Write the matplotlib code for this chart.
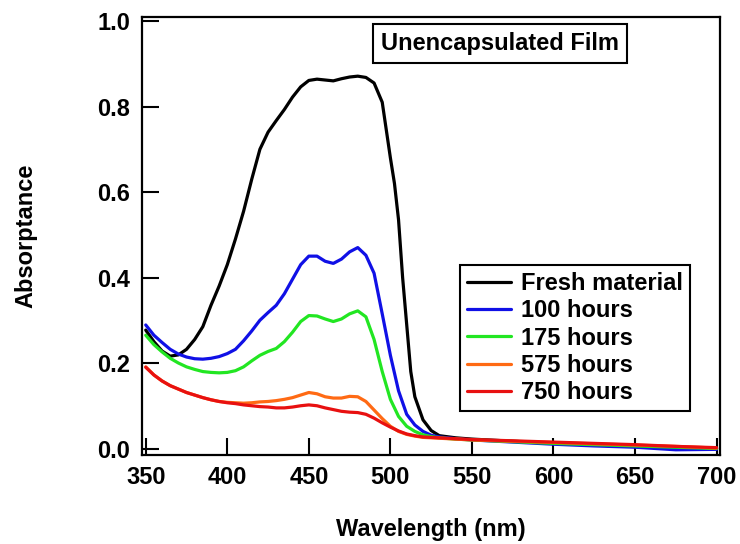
import matplotlib
matplotlib.use("Agg")
import matplotlib.pyplot as plt

plt.rcParams['font.family'] = ['Liberation Sans', 'DejaVu Sans']
plt.rcParams['font.weight'] = 'bold'

# ---- data ----
wl_fresh = [350, 355, 360, 365, 370, 375, 380, 385, 390, 395, 400, 405, 410, 415, 420,
            425, 430, 435, 440, 445, 450, 455, 460, 465, 470, 475, 480, 485, 490, 495,
            500, 502.5, 505, 507.5, 510, 512.5, 515, 520, 525, 530, 540, 550, 575, 600,
            625, 650, 675, 700]
a_fresh = [0.277, 0.250, 0.228, 0.216, 0.219, 0.232, 0.255, 0.285, 0.335, 0.380, 0.430,
           0.490, 0.555, 0.630, 0.700, 0.740, 0.767, 0.793, 0.822, 0.846, 0.861, 0.864,
           0.862, 0.860, 0.865, 0.869, 0.871, 0.868, 0.855, 0.810, 0.680, 0.620, 0.535,
           0.400, 0.290, 0.180, 0.121, 0.067, 0.042, 0.030, 0.025, 0.022, 0.017, 0.012,
           0.008, 0.005, 0.002, 0.000]

wl_std = [350, 355, 360, 365, 370, 375, 380, 385, 390, 395, 400, 405, 410, 415, 420,
          425, 430, 435, 440, 445, 450, 455, 460, 465, 470, 475, 480, 485, 490, 495,
          500, 505, 510, 515, 520, 525, 530, 540, 550, 575, 600, 625, 650, 675, 700]

a_100 = [0.289, 0.265, 0.248, 0.232, 0.221, 0.214, 0.210, 0.209, 0.211, 0.215, 0.222,
         0.232, 0.252, 0.275, 0.300, 0.318, 0.335, 0.362, 0.396, 0.430, 0.450, 0.450,
         0.438, 0.433, 0.443, 0.460, 0.470, 0.452, 0.410, 0.315, 0.218, 0.135, 0.080,
         0.055, 0.040, 0.031, 0.027, 0.023, 0.020, 0.015, 0.010, 0.006, 0.003, -0.003,
         -0.002]

a_175 = [0.265, 0.243, 0.226, 0.211, 0.200, 0.191, 0.185, 0.180, 0.178, 0.177, 0.178,
         0.182, 0.191, 0.205, 0.218, 0.227, 0.234, 0.250, 0.272, 0.297, 0.311, 0.310,
         0.303, 0.297, 0.303, 0.315, 0.322, 0.308, 0.255, 0.180, 0.115, 0.075, 0.052,
         0.040, 0.032, 0.028, 0.025, 0.022, 0.020, 0.016, 0.012, 0.009, 0.006, 0.003,
         0.000]

a_575 = [0.191, 0.172, 0.158, 0.147, 0.139, 0.131, 0.125, 0.119, 0.114, 0.110, 0.108,
         0.107, 0.106, 0.107, 0.109, 0.110, 0.112, 0.115, 0.119, 0.125, 0.131, 0.128,
         0.121, 0.118, 0.118, 0.122, 0.121, 0.110, 0.090, 0.070, 0.052, 0.040, 0.033,
         0.029, 0.026, 0.025, 0.024, 0.022, 0.020, 0.017, 0.014, 0.011, 0.008, 0.005,
         0.001]

a_750 = [0.190, 0.172, 0.158, 0.147, 0.139, 0.131, 0.125, 0.119, 0.114, 0.110, 0.107,
         0.105, 0.102, 0.100, 0.098, 0.097, 0.095, 0.095, 0.097, 0.100, 0.102, 0.100,
         0.095, 0.091, 0.087, 0.085, 0.084, 0.080, 0.071, 0.060, 0.050, 0.041, 0.034,
         0.030, 0.027, 0.026, 0.025, 0.023, 0.021, 0.018, 0.015, 0.012, 0.009, 0.005,
         0.002]

labels = ["Fresh material", "100 hours", "175 hours", "575 hours", "750 hours"]
colors = ["#000000", "#1010e6", "#22e622", "#ff6a14", "#e81010"]
x_ticks = [350, 400, 450, 500, 550, 600, 650, 700]
y_ticks = [0.0, 0.2, 0.4, 0.6, 0.8, 1.0]
title_text = "Unencapsulated Film"
x_label = "Wavelength (nm)"
y_label = "Absorptance"

# ---- figure ----
W, H = 740, 544
fig = plt.figure(figsize=(W / 100, H / 100), dpi=100)
ax = fig.add_axes([141.5 / W, 1 - 455 / H, (720 - 141.5) / W, (455 - 17.3) / H])

series = [(wl_fresh, a_fresh), (wl_std, a_100), (wl_std, a_175), (wl_std, a_575), (wl_std, a_750)]
for (x, y), lab, c in zip(series, labels, colors):
    ax.plot(x, y, color=c, lw=2.3, label=lab, solid_capstyle='round', solid_joinstyle='round')

ax.set_xlim(347.4, 702.1)
ax.set_ylim(-0.0152, 1.0087)
ax.set_xticks(x_ticks)
ax.set_yticks(y_ticks)
ax.set_yticklabels([f"{v:.1f}" for v in y_ticks])
ax.tick_params(direction='in', length=12, width=1.5, labelsize=17, pad=8,
               top=False, right=False)
for s in ax.spines.values():
    s.set_linewidth(1.6)

ax.set_xlabel(x_label, fontsize=17, fontweight='bold', labelpad=21)
ax.set_ylabel(y_label, fontsize=17, fontweight='bold', labelpad=43)

leg = ax.legend(loc='upper left', bbox_to_anchor=(460 / W, 1 - 265 / H),
                bbox_transform=fig.transFigure, fontsize=17, frameon=True,
                fancybox=False, edgecolor='black', framealpha=1,
                handlelength=1.85, handletextpad=0.45, labelspacing=0.18,
                borderpad=0.3, borderaxespad=0)
leg.get_frame().set_linewidth(1.5)
for t in leg.get_texts():
    t.set_fontweight('bold')

fig.text(500 / W, 1 - 43.5 / H, title_text, fontsize=17, fontweight='bold',
         ha='center', va='center',
         bbox=dict(boxstyle='square,pad=0.32', facecolor='white', edgecolor='black', linewidth=1.5))

fig.savefig("out.png", dpi=100)
